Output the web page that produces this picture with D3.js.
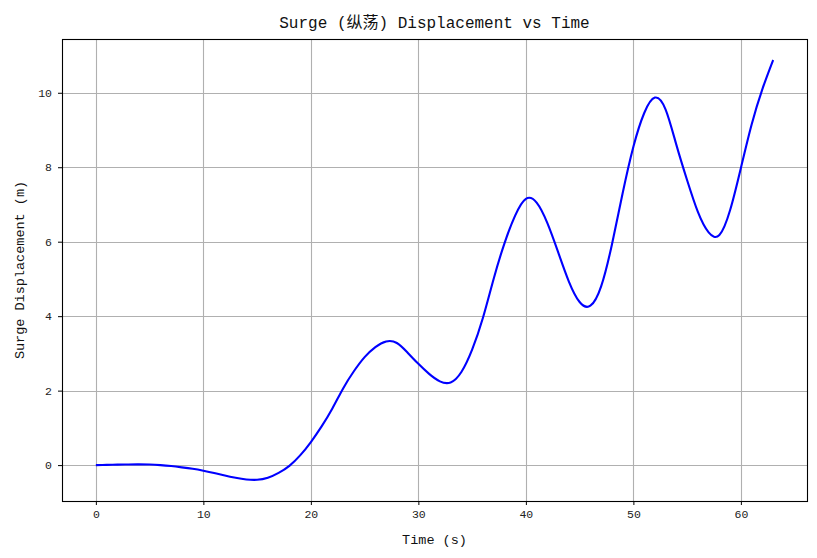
<!DOCTYPE html>
<html><head><meta charset="utf-8">
<script src="https://cdn.jsdelivr.net/npm/d3@7"></script>
<style>
body{margin:0;background:#fff;}
text{font-family:"Liberation Mono","DejaVu Sans Mono","Noto Sans CJK SC",monospace;}
</style></head>
<body><svg id="c" width="817" height="558"></svg>
<script>
const timeS = [0,1,2,3,4,5,6,7,8,9,10,11,12,13,14,15,16,17,18,19,20,21,22,23,24,25,26,27,28,29,30,31,32,33,34,35,36,37,38,39,40,41,42,43,44,45,46,47,48,49,50,51,52,53,54,55,56,57,58,59,60,61,62,63];
const surge = [0,0.005,0.012,0.018,0.02,0.015,0.0,-0.025,-0.06,-0.1,-0.15,-0.21,-0.28,-0.34,-0.385,-0.395,-0.34,-0.21,-0.02,0.26,0.62,1.04,1.52,2.06,2.52,2.9,3.17,3.32,3.28,3.02,2.72,2.45,2.25,2.22,2.5,3.1,3.95,5.0,5.95,6.7,7.15,7.05,6.5,5.72,4.93,4.38,4.28,4.8,5.92,7.3,8.55,9.45,9.87,9.55,8.6,7.65,6.8,6.25,6.18,6.85,7.98,9.15,10.1,10.88];
const xTicks = [0,10,20,30,40,50,60];
const yTicks = [0,2,4,6,8,10];
const titleText = "Surge (纵荡) Displacement vs Time";
const xLabel = "Time (s)";
const yLabel = "Surge Displacement (m)";

const svg = d3.select("#c");
const L=62,R=807,T=39,B=501;
const xmin=d3.min(timeS), xmax=d3.max(timeS), ymin=-0.4, ymax=10.88;
const xm=(xmax-xmin)*0.05, ym=(ymax-ymin)*0.05;
const x=d3.scaleLinear().domain([xmin-xm,xmax+xm]).range([L,R]);
const y=d3.scaleLinear().domain([ymin-ym,ymax+ym]).range([B,T]);

const g=svg.append("g");
g.selectAll(".gx").data(xTicks).enter().append("line")
 .attr("x1",d=>Math.round(x(d))+0.5).attr("x2",d=>Math.round(x(d))+0.5).attr("y1",T).attr("y2",B)
 .attr("stroke","#b0b0b0").attr("stroke-width",1.1);
g.selectAll(".gy").data(yTicks).enter().append("line")
 .attr("y1",d=>Math.round(y(d))+0.5).attr("y2",d=>Math.round(y(d))+0.5).attr("x1",L).attr("x2",R)
 .attr("stroke","#b0b0b0").attr("stroke-width",1.1);

const line=d3.line().x((d,i)=>x(timeS[i])).y(d=>y(d)).curve(d3.curveNatural);
svg.append("path").datum(surge).attr("d",line).attr("fill","none").attr("stroke","#0000ff").attr("stroke-width",2.1);

const xa=svg.append("g").attr("transform",`translate(0,${B})`)
 .call(d3.axisBottom(x).tickValues(xTicks).tickSize(4).tickPadding(5).tickSizeOuter(0));
const ya=svg.append("g").attr("transform",`translate(${L},0)`)
 .call(d3.axisLeft(y).tickValues(yTicks).tickSize(4).tickPadding(6).tickSizeOuter(0));
[xa,ya].forEach(a=>{a.select(".domain").remove();a.selectAll("text").attr("font-size",11.5).attr("fill","#222").style("font-family","Liberation Mono, monospace");a.selectAll("line").attr("stroke","#000");});

svg.append("rect").attr("x",L+0.5).attr("y",T+0.5).attr("width",R-L).attr("height",B-T)
 .attr("fill","none").attr("stroke","#000").attr("stroke-width",1.1);

svg.append("text").attr("x",(L+R)/2).attr("y",28).attr("text-anchor","middle").attr("font-size",16).attr("fill","#111").text(titleText);
svg.append("text").attr("x",(L+R)/2).attr("y",544).attr("text-anchor","middle").attr("font-size",13.5).attr("fill","#111").text(xLabel);
svg.append("text").attr("transform",`translate(24,${(T+B)/2}) rotate(-90)`).attr("text-anchor","middle").attr("font-size",13.5).attr("fill","#111").text(yLabel);
</script></body></html>
